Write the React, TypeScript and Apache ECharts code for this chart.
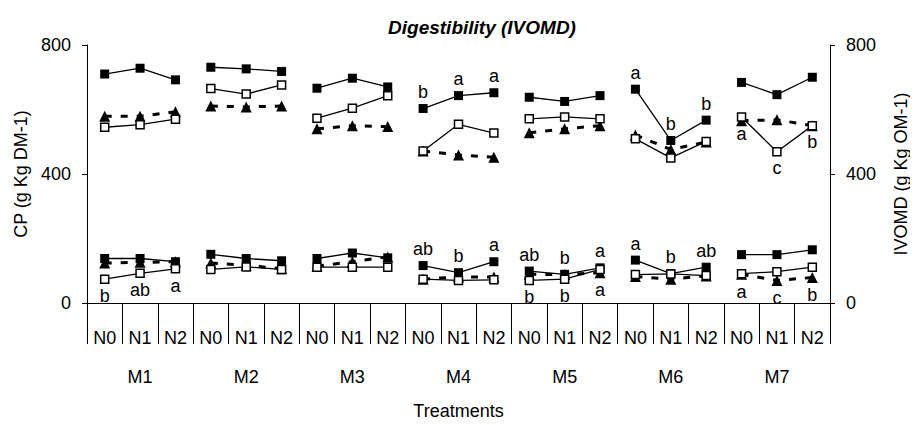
import React, { useEffect, useRef } from "react";
import * as echarts from "echarts";

const nLevels = ["N0", "N1", "N2"];
const groups = ["M1", "M2", "M3", "M4", "M5", "M6", "M7"];
const yTicks = [0, 400, 800];

// IVOMD (upper set)
const ivomdFilled = [710, 728, 692, 731, 726, 718, 666, 697, 670, 603, 643, 652, 638, 625, 643, 663, 504, 567, 684, 646, 700];
const ivomdOpen = [545, 553, 570, 665, 648, 676, 573, 604, 643, 471, 554, 527, 571, 577, 571, 509, 450, 501, 577, 469, 550];
const ivomdTri = [579, 579, 593, 611, 608, 611, 540, 550, 547, 471, 459, 452, 528, 540, 550, 521, 476, 499, 565, 568, 550];
// CP (lower set)
const cpFilled = [138, 138, 128, 151, 138, 131, 138, 155, 140, 116, 94, 128, 99, 89, 109, 133, 91, 111, 150, 150, 165];
const cpOpen = [74, 92, 106, 104, 112, 104, 111, 111, 111, 74, 70, 72, 70, 74, 104, 88, 90, 85, 91, 97, 111];
const cpTri = [124, 126, 128, 124, 117, 106, 114, 128, 143, 74, 81, 81, 89, 88, 94, 82, 74, 84, 89, 70, 79];

// significance letters
const ivomdFilledLetters = ["", "", "", "", "", "", "", "", "", "b", "a", "a", "", "", "", "a", "b", "b", "", "", ""];
const ivomdOpenLetters = ["", "", "", "", "", "", "", "", "", "", "", "", "", "", "", "", "", "", "a", "c", "b"];
const cpFilledLetters = ["", "", "", "", "", "", "", "", "", "ab", "b", "a", "ab", "b", "a", "a", "b", "ab", "", "", ""];
const cpOpenLetters = ["b", "ab", "a", "", "", "", "", "", "", "", "", "", "b", "b", "", "", "", "", "", "", ""];
const cpTriLetters = ["", "", "", "", "", "", "", "", "", "", "", "", "", "", "a", "", "", "", "a", "c", "b"];

const FONT = "Liberation Sans, Arial, sans-serif";
const FS = 18;

export default function App() {
  const ref = useRef<HTMLDivElement>(null);
  useEffect(() => {
    if (!ref.current) return;
    const chart = echarts.init(ref.current, undefined, { renderer: "svg" });
    const categories: string[] = [];
    groups.forEach(() => nLevels.forEach((n) => categories.push(n)));

    type Kind = { values: number[]; letters: string[]; pos: string; symbol: string; size: number; fill: string; dashed: boolean; name: string };
    const kinds: Kind[] = [
      { name: "IVOMD filled", values: ivomdFilled, letters: ivomdFilledLetters, pos: "top", symbol: "rect", size: 9, fill: "#000", dashed: false },
      { name: "IVOMD open", values: ivomdOpen, letters: ivomdOpenLetters, pos: "bottom", symbol: "rect", size: 8, fill: "#fff", dashed: false },
      { name: "IVOMD tri", values: ivomdTri, letters: [], pos: "bottom", symbol: "triangle", size: 11, fill: "#000", dashed: true },
      { name: "CP filled", values: cpFilled, letters: cpFilledLetters, pos: "top", symbol: "rect", size: 9, fill: "#000", dashed: false },
      { name: "CP open", values: cpOpen, letters: cpOpenLetters, pos: "bottom", symbol: "rect", size: 8, fill: "#fff", dashed: false },
      { name: "CP tri", values: cpTri, letters: cpTriLetters, pos: "bottom", symbol: "triangle", size: 11, fill: "#000", dashed: true },
    ];

    const series: any[] = [];
    kinds.forEach((k) => {
      groups.forEach((_, g) => {
        const data = categories.map((_, i) => {
          if (Math.floor(i / 3) !== g) return null;
          const letter = k.letters[i];
          if (letter) {
            return {
              value: k.values[i],
              label: { show: true, formatter: letter, position: k.pos, distance: 3, fontSize: FS, color: "#000", fontFamily: FONT },
            };
          }
          return k.values[i];
        });
        series.push({
          name: k.name,
          type: "line",
          xAxisIndex: 0,
          yAxisIndex: 0,
          data,
          connectNulls: false,
          symbol: k.symbol,
          symbolSize: k.size,
          showAllSymbol: true,
          itemStyle: { color: k.fill, borderColor: "#000", borderWidth: k.fill === "#fff" ? 1.5 : 0 },
          lineStyle: { color: "#000", width: k.dashed ? 3 : 1.3, type: k.dashed ? [7, 9] : "solid" },
          z: k.fill === "#fff" ? 4 : 3,
          emphasis: { disabled: true },
        });
      });
    });

    const axisColor = "#000";
    chart.setOption({
      animation: false,
      backgroundColor: "#fff",
      textStyle: { fontFamily: FONT },
      title: {
        text: "Digestibility (IVOMD)",
        left: 477,
        top: 13,
        textAlign: "center",
        textStyle: { fontSize: 19, fontWeight: "bold", fontStyle: "italic", color: "#000", fontFamily: FONT },
      },
      grid: { left: 87, right: 78, top: 45, bottom: 108, containLabel: false },
      xAxis: [
        {
          type: "category",
          data: categories,
          boundaryGap: true,
          axisLine: { show: true, lineStyle: { color: axisColor, width: 1 } },
          axisTick: { show: true, interval: 0, length: 41, lineStyle: { color: axisColor, width: 1 } },
          axisLabel: { interval: 0, margin: 26, fontSize: FS, color: "#000", fontFamily: FONT },
          splitLine: { show: false },
        },
        {
          type: "category",
          data: groups,
          position: "bottom",
          offset: 41,
          boundaryGap: true,
          axisLine: { show: false },
          axisTick: { show: true, interval: 0, length: 40, lineStyle: { color: axisColor, width: 1 } },
          axisLabel: { interval: 0, margin: 24, fontSize: FS, color: "#000", fontFamily: FONT },
          name: "Treatments",
          nameLocation: "middle",
          nameGap: 58,
          nameTextStyle: { fontSize: FS, color: "#000", fontFamily: FONT },
          splitLine: { show: false },
        },
      ],
      yAxis: [
        {
          type: "value",
          min: yTicks[0],
          max: yTicks[yTicks.length - 1],
          interval: 400,
          position: "left",
          name: "CP (g Kg DM-1)",
          nameLocation: "middle",
          nameRotate: 90,
          nameGap: 57,
          nameTextStyle: { fontSize: FS, color: "#000", fontFamily: FONT },
          axisLine: { show: true, lineStyle: { color: axisColor, width: 1 } },
          axisTick: { show: true, length: 5, lineStyle: { color: axisColor } },
          axisLabel: { margin: 16, fontSize: FS, color: "#000", fontFamily: FONT },
          splitLine: { show: false },
        },
        {
          type: "value",
          min: yTicks[0],
          max: yTicks[yTicks.length - 1],
          interval: 400,
          position: "right",
          name: "IVOMD (g Kg OM-1)",
          nameLocation: "middle",
          nameRotate: 90,
          nameGap: 62,
          nameTextStyle: { fontSize: FS, color: "#000", fontFamily: FONT },
          axisLine: { show: true, lineStyle: { color: axisColor, width: 1 } },
          axisTick: { show: true, length: 5, lineStyle: { color: axisColor } },
          axisLabel: { margin: 16, fontSize: FS, color: "#000", fontFamily: FONT },
          splitLine: { show: false },
        },
      ],
      series,
    });
    return () => chart.dispose();
  }, []);
  return <div ref={ref} style={{ width: 918, height: 425, margin: -8 }} />;
}
